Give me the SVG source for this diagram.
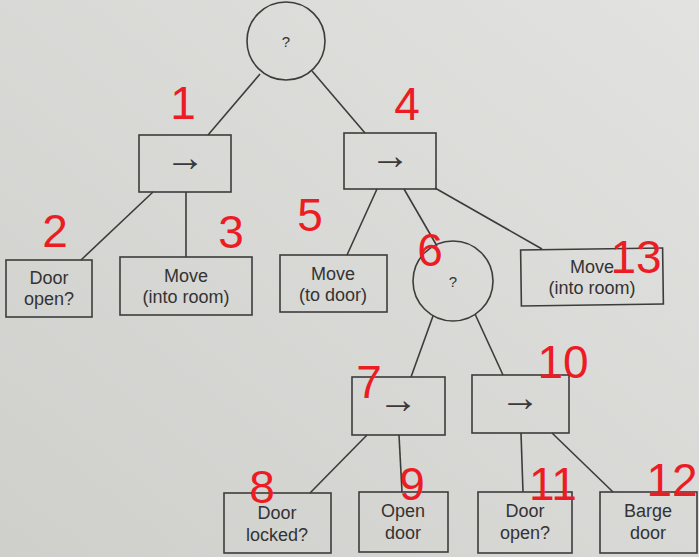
<svg xmlns="http://www.w3.org/2000/svg" width="699" height="557" viewBox="0 0 699 557">
<defs>
<linearGradient id="paper" x1="0" y1="1" x2="1" y2="0">
<stop offset="0" stop-color="#cfcfcc"/>
<stop offset="1" stop-color="#e2e2e0"/>
</linearGradient>
</defs>
<style>
.n{fill:none;stroke:#3c3c3c;stroke-width:1.6}
.c{stroke:#3c3c3c;stroke-width:1.6;fill:none}
.t{font-family:"Liberation Sans","Arial",sans-serif;font-size:18px;fill:#333;text-anchor:middle}
.q{font-family:"Liberation Sans","Arial",sans-serif;font-size:15px;fill:#333;text-anchor:middle}
.a{font-family:"Liberation Sans","DejaVu Sans",sans-serif;font-size:40px;fill:#3a3a3a;text-anchor:middle}
.r{font-family:"Liberation Sans","Arial",sans-serif;font-size:46px;fill:#ec1c24;text-anchor:middle}
</style>
<rect width="699" height="557" fill="url(#paper)"/>
<g id="connectors">
<line class="c" x1="260" y1="74" x2="208" y2="135"/>
<line class="c" x1="312" y1="71" x2="365" y2="133"/>
<line class="c" x1="153" y1="192" x2="81" y2="260"/>
<line class="c" x1="186" y1="192" x2="186" y2="257"/>
<line class="c" x1="377" y1="189" x2="347" y2="255"/>
<line class="c" x1="404" y1="189" x2="437" y2="246"/>
<line class="c" x1="435" y1="188" x2="542" y2="249"/>
<line class="c" x1="433" y1="316" x2="411" y2="377"/>
<line class="c" x1="475" y1="314" x2="503" y2="375"/>
<line class="c" x1="367" y1="435" x2="310" y2="493"/>
<line class="c" x1="399" y1="435" x2="402" y2="492"/>
<line class="c" x1="521" y1="433" x2="523" y2="492"/>
<line class="c" x1="552" y1="433" x2="613" y2="492"/>
</g>
<g id="root"><circle class="n" cx="286" cy="41" r="39"/><text class="q" x="286" y="47">?</text></g>
<g id="seq1"><rect class="n" x="139" y="135" width="92" height="57"/><text class="a" x="185" y="171">→</text></g>
<g id="seq4"><rect class="n" x="344" y="133" width="92" height="56"/><text class="a" x="390" y="169">→</text></g>
<g id="door-open-1"><rect class="n" x="6" y="260" width="86" height="57"/><text class="t" x="49" y="284">Door</text><text class="t" x="49" y="305">open?</text></g>
<g id="move-into-room-1"><rect class="n" x="120" y="257" width="132" height="58"/><text class="t" x="186" y="282">Move</text><text class="t" x="186" y="303">(into room)</text></g>
<g id="move-to-door"><rect class="n" x="280" y="255" width="107" height="57"/><text class="t" x="333" y="280">Move</text><text class="t" x="333" y="301">(to door)</text></g>
<g id="sel6"><circle class="n" cx="453" cy="281" r="40"/><text class="q" x="453" y="287">?</text></g>
<g id="move-into-room-2"><rect class="n" x="521" y="249" width="142" height="56" transform="rotate(-0.8 592 277)"/><text class="t" x="592" y="273">Move</text><text class="t" x="592" y="294">(into room)</text></g>
<g id="seq7"><rect class="n" x="352" y="377" width="93" height="58"/><text class="a" x="398" y="413">→</text></g>
<g id="seq10"><rect class="n" x="472" y="375" width="97" height="58"/><text class="a" x="520" y="411">→</text></g>
<g id="door-locked"><rect class="n" x="224" y="493" width="107" height="60"/><text class="t" x="277" y="519">Door</text><text class="t" x="277" y="541">locked?</text></g>
<g id="open-door"><rect class="n" x="359" y="492" width="89" height="60"/><text class="t" x="403" y="517">Open</text><text class="t" x="403" y="539">door</text></g>
<g id="door-open-2"><rect class="n" x="478" y="492" width="94" height="61"/><text class="t" x="525" y="517">Door</text><text class="t" x="525" y="539">open?</text></g>
<g id="barge-door"><rect class="n" x="600" y="492" width="97" height="61"/><text class="t" x="648" y="517">Barge</text><text class="t" x="648" y="539">door</text></g>
<g id="annotations">
<text class="r" x="183" y="119" font-size="32">1</text>
<text class="r" x="55" y="247">2</text>
<text class="r" x="231" y="248">3</text>
<text class="r" x="310" y="231" font-size="38">5</text>
<text class="r" x="407" y="120">4</text>
<text class="r" x="430" y="266">6</text>
<text class="r" x="636" y="273" font-size="54">13</text>
<text class="r" x="369" y="398" font-size="56">7</text>
<text class="r" x="563" y="378" font-size="46">10</text>
<text class="r" x="262" y="503" font-size="40">8</text>
<text class="r" x="412" y="500" font-size="40">9</text>
<text class="r" x="553" y="500" font-size="38">11</text>
<text class="r" x="672" y="496" font-size="38">12</text>
</g>
</svg>
